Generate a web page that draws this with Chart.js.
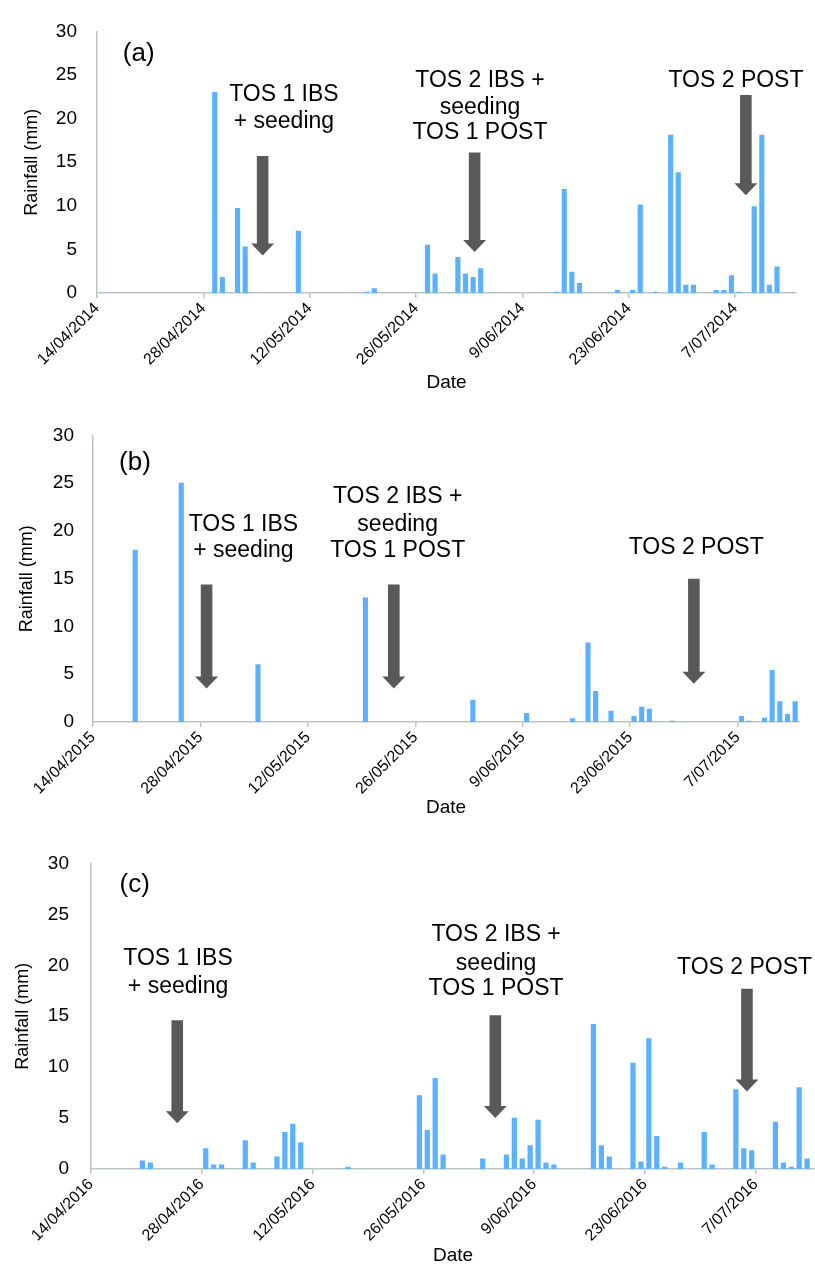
<!DOCTYPE html>
<html lang="en">
<head>
<meta charset="UTF-8">
<title>Rainfall (mm) by date</title>
<script src="https://cdn.jsdelivr.net/npm/chart.js"></script>
<style>
  html, body { margin: 0; padding: 0; background: #fff; overflow: hidden; }
  canvas { position: absolute; left: 0; }
</style>
</head>
<body>
<canvas id="chartA" width="815" height="405" style="top:0px"></canvas>
<canvas id="chartB" width="815" height="425" style="top:405px"></canvas>
<canvas id="chartC" width="815" height="439" style="top:830px"></canvas>
<script>
// day number counted from 14 April of each season, and rainfall on that day (mm)
const daysA = [15, 16, 18, 19, 26, 35, 36, 43, 44, 47, 48, 49, 50, 60, 61, 62, 63, 68, 70, 71, 73, 75, 76, 77, 78, 81, 82, 83, 84, 86, 87, 88, 89];
const rainA = [23, 1.8, 9.7, 5.3, 7.1, 0.1, 0.5, 5.5, 2.2, 4.1, 2.2, 1.8, 2.8, 0.1, 11.9, 2.4, 1.1, 0.3, 0.3, 10.1, 0.1, 18.1, 13.8, 0.9, 0.9, 0.3, 0.3, 2.0, 0.1, 9.9, 18.1, 0.9, 3.0];

const daysB = [5, 11, 21, 35, 49, 56, 62, 64, 65, 67, 70, 71, 72, 75, 84, 85, 87, 88, 89, 90, 91];
const rainB = [18, 25, 6, 13, 2.3, 0.9, 0.35, 8.3, 3.2, 1.15, 0.6, 1.55, 1.35, 0.1, 0.6, 0.1, 0.4, 5.4, 2.15, 0.8, 2.15];

const daysC = [6, 7, 14, 15, 16, 19, 20, 23, 24, 25, 26, 32, 41, 42, 43, 44, 49, 52, 53, 54, 55, 56, 57, 58, 63, 64, 65, 68, 69, 70, 71, 72, 74, 77, 78, 81, 82, 83, 86, 87, 88, 89, 90];
const rainC = [0.8, 0.6, 2.0, 0.4, 0.4, 2.8, 0.6, 1.2, 3.6, 4.4, 2.6, 0.2, 7.2, 3.8, 8.9, 1.4, 1.0, 1.4, 5.0, 1.0, 2.3, 4.8, 0.6, 0.4, 14.2, 2.3, 1.2, 10.4, 0.7, 12.8, 3.2, 0.2, 0.6, 3.6, 0.4, 7.8, 2.0, 1.8, 4.6, 0.6, 0.2, 8.0, 1.0];

// x tick marks every 14 days
const tickDays = [0, 14, 28, 42, 56, 70, 84];
const ticksA = ['14/04/2014', '28/04/2014', '12/05/2014', '26/05/2014', '9/06/2014', '23/06/2014', '7/07/2014'];
const ticksB = ['14/04/2015', '28/04/2015', '12/05/2015', '26/05/2015', '9/06/2015', '23/06/2015', '7/07/2015'];
const ticksC = ['14/04/2016', '28/04/2016', '12/05/2016', '26/05/2016', '9/06/2016', '23/06/2016', '7/07/2016'];

const FONT = '"Liberation Sans", Arial, sans-serif';
const AXIS = '#bcc4c4';

// arrows and labels, in data units (day, mm)
const notesPlugin = {
  id: 'notes',
  afterDatasetsDraw(chart, args, opts) {
    const { ctx } = chart;
    const x = chart.scales.x, y = chart.scales.y;
    ctx.save();
    ctx.fillStyle = '#595959';
    (opts.arrows || []).forEach(a => {
      const cx = x.getPixelForValue(a.x);
      const top = y.getPixelForValue(a.from);
      const tip = y.getPixelForValue(a.to);
      const hw = 5.8, headW = 11.5, headL = 12;
      ctx.beginPath();
      ctx.moveTo(cx - hw, top);
      ctx.lineTo(cx + hw, top);
      ctx.lineTo(cx + hw, tip - headL);
      ctx.lineTo(cx + headW, tip - headL);
      ctx.lineTo(cx, tip);
      ctx.lineTo(cx - headW, tip - headL);
      ctx.lineTo(cx - hw, tip - headL);
      ctx.closePath();
      ctx.fill();
    });
    ctx.fillStyle = '#000';
    ctx.textBaseline = 'middle';
    (opts.labels || []).forEach(t => {
      ctx.font = t.size + 'px ' + FONT;
      ctx.textAlign = t.align || 'center';
      t.lines.forEach((line, i) => {
        ctx.fillText(line, x.getPixelForValue(t.x), y.getPixelForValue(t.y[i]));
      });
    });
    ctx.restore();
  }
};

function makeChart(id, days, rain, tickLabels, box, notes) {
  const canvas = document.getElementById(id);
  return new Chart(canvas.getContext('2d'), {
    type: 'bar',
    data: {
      datasets: [{
        data: days.map((d, i) => ({ x: d + 0.5, y: rain[i] })),
        backgroundColor: '#5cb1ff',
        borderWidth: 0,
        barThickness: box.bar
      }]
    },
    plugins: [notesPlugin],
    options: {
      responsive: false,
      animation: false,
      events: [],
      layout: { padding: { top: box.top, right: box.right, left: 0, bottom: 0 } },
      plugins: {
        legend: { display: false },
        tooltip: { enabled: false },
        notes: notes
      },
      scales: {
        x: {
          type: 'linear',
          offset: false,
          min: 0,
          max: box.days,
          afterBuildTicks: s => { s.ticks = tickDays.map(v => ({ value: v })); },
          afterFit: s => { s.height = box.xh; },
          ticks: {
            autoSkip: false,
            minRotation: 45,
            maxRotation: 45,
            padding: 1,
            color: '#000',
            font: { family: FONT, size: 16 },
            callback: v => tickLabels[tickDays.indexOf(v)]
          },
          grid: { offset: false, drawOnChartArea: false, drawTicks: true, tickLength: 5, color: AXIS, lineWidth: 1.5 },
          border: { display: true, color: AXIS, width: 1.5 },
          title: {
            display: true, text: 'Date', color: '#000',
            font: { family: FONT, size: 19 },
            padding: { top: 0, bottom: box.datePad }
          }
        },
        y: {
          min: 0,
          max: 30,
          afterFit: s => { s.width = box.left; },
          ticks: {
            stepSize: 5,
            padding: box.tickPad,
            color: '#000',
            font: { family: FONT, size: 19 }
          },
          grid: { display: false, drawTicks: false },
          border: { display: true, color: AXIS, width: 1.5 },
          title: {
            display: true, text: 'Rainfall (mm)', color: '#000',
            font: { family: FONT, size: 18 },
            padding: { top: box.titlePad, bottom: 0 }
          }
        }
      }
    }
  });
}

makeChart('chartA', daysA, rainA, ticksA,
  { top: 18, right: 19, left: 97, xh: 112, days: 92, bar: 4.5, tickPad: 20, titlePad: 21, datePad: 11 },
  {
    arrows: [
      { x: 21.8, from: 15.7, to: 4.3 },
      { x: 49.7, from: 16.1, to: 4.7 },
      { x: 85.4, from: 22.7, to: 11.2 }
    ],
    labels: [
      { x: 3.4, y: [27.4], lines: ['(a)'], size: 26, align: 'left' },
      { x: 24.6, y: [22.8, 19.7], lines: ['TOS 1 IBS', '+ seeding'], size: 23 },
      { x: 50.4, y: [24.4, 21.3, 18.4], lines: ['TOS 2 IBS +', 'seeding', 'TOS 1 POST'], size: 23 },
      { x: 84.1, y: [24.4], lines: ['TOS 2 POST'], size: 23 }
    ]
  });

makeChart('chartB', daysB, rainB, ticksB,
  { top: 29, right: 16, left: 93, xh: 108, days: 92, bar: 4.5, tickPad: 19, titlePad: 16, datePad: 11 },
  {
    arrows: [
      { x: 14.8, from: 14.4, to: 3.5 },
      { x: 39.2, from: 14.4, to: 3.5 },
      { x: 78.3, from: 15.0, to: 4.0 }
    ],
    labels: [
      { x: 3.4, y: [27.1], lines: ['(b)'], size: 26, align: 'left' },
      { x: 19.6, y: [20.7, 17.9], lines: ['TOS 1 IBS', '+ seeding'], size: 23 },
      { x: 39.7, y: [23.6, 20.7, 17.9], lines: ['TOS 2 IBS +', 'seeding', 'TOS 1 POST'], size: 23 },
      { x: 78.6, y: [18.3], lines: ['TOS 2 POST'], size: 23 }
    ]
  });

makeChart('chartC', daysC, rainC, ticksC,
  { top: 28, right: 0, left: 91, xh: 100, days: 91.5, bar: 4.6, tickPad: 22, titlePad: 12, datePad: 2 },
  {
    arrows: [
      { x: 10.9, from: 14.6, to: 4.5 },
      { x: 51.1, from: 15.1, to: 5.0 },
      { x: 82.9, from: 17.7, to: 7.6 }
    ],
    labels: [
      { x: 3.6, y: [27.9], lines: ['(c)'], size: 26, align: 'left' },
      { x: 11.0, y: [20.6, 17.9], lines: ['TOS 1 IBS', '+ seeding'], size: 23 },
      { x: 51.2, y: [23.0, 20.2, 17.7], lines: ['TOS 2 IBS +', 'seeding', 'TOS 1 POST'], size: 23 },
      { x: 82.6, y: [19.8], lines: ['TOS 2 POST'], size: 23 }
    ]
  });
</script>
</body>
</html>
